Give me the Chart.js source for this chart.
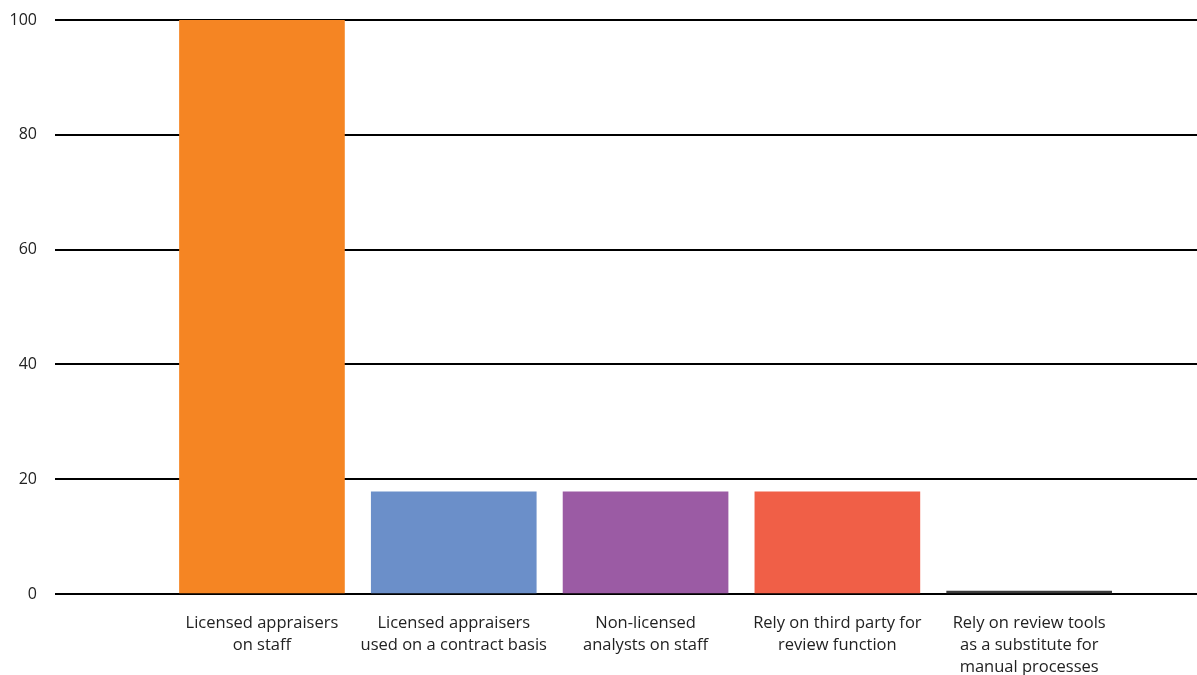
<!DOCTYPE html>
<html>
<head>
<meta charset="utf-8">
<script src="https://cdn.jsdelivr.net/npm/chart.js@4/dist/chart.umd.min.js"></script>
<style>
  html, body { margin: 0; padding: 0; background: #fff; }
  #wrap { width: 1197px; height: 675px; }
</style>
</head>
<body>
<div id="wrap"><canvas id="reviewChart"></canvas></div>
<script>
const categories = [
  ["Licensed appraisers", "on staff"],
  ["Licensed appraisers", "used on a contract basis"],
  ["Non-licensed", "analysts on staff"],
  ["Rely on third party for", "review function"],
  ["Rely on review tools", "as a substitute for", "manual processes"]
];
const values = [100, 17.8, 17.8, 17.8, 0.5];
const barColors = ["#f58523", "#6b8fc9", "#9b5ba4", "#f05f47", "#3c3c3c"];
const yTicks = [0, 20, 40, 60, 80, 100];

const ctx = document.getElementById("reviewChart");

new Chart(ctx, {
  type: "bar",
  data: {
    datasets: [{
      data: values.map((v, i) => ({ x: i + 1, y: v })),
      backgroundColor: barColors,
      barThickness: 165
    }]
  },
  options: {
    responsive: true,
    maintainAspectRatio: false,
    animation: false,
    layout: { padding: 0 },
    plugins: {
      legend: { display: false },
      tooltip: { enabled: false }
    },
    scales: {
      x: {
        type: "linear",
        offset: false,
        min: -0.079,
        max: 5.875,
        grid: { display: false, offset: false },
        border: { display: false },
        afterBuildTicks: (scale) => {
          scale.ticks = categories.map((_, i) => ({ value: i + 1 }));
        },
        afterFit: (scale) => { scale.height = 81; },
        ticks: {
          autoSkip: false,
          maxRotation: 0,
          padding: 10,
          color: "#222",
          font: { family: "'Open Sans', sans-serif", size: 16.5, lineHeight: 1.35 },
          callback: (value) => categories[value - 1] || ""
        }
      },
      y: {
        min: 0,
        max: 100,
        afterBuildTicks: (scale) => {
          scale.ticks = yTicks.map(v => ({ value: v }));
        },
        afterFit: (scale) => {
          scale.width = 55;
          scale.paddingTop = 20;
          scale.paddingBottom = 10;
        },
        grid: { color: "#000", lineWidth: 2, drawTicks: false },
        border: { display: false },
        ticks: {
          padding: 18,
          color: "#222",
          font: { family: "'Open Sans', sans-serif", size: 16 }
        }
      }
    }
  }
});
</script>
</body>
</html>
